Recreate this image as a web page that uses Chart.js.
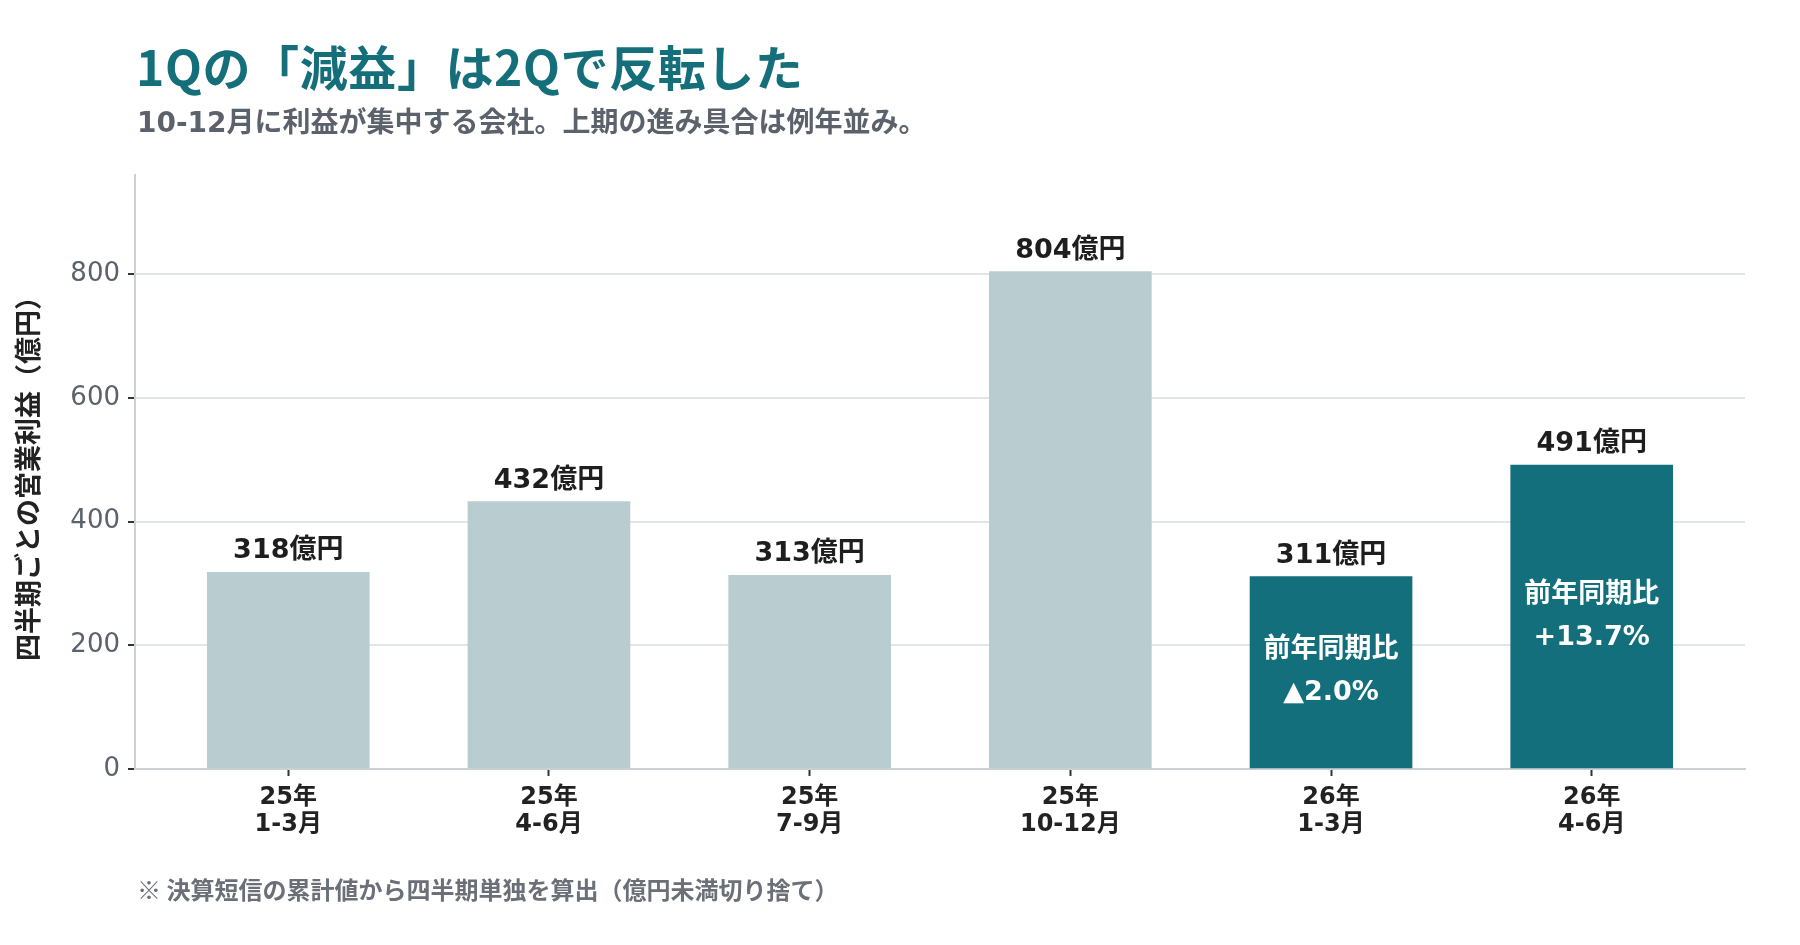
<!DOCTYPE html>
<html lang="ja">
<head>
<meta charset="utf-8">
<script src="https://cdn.jsdelivr.net/npm/chart.js@4.4.1/dist/chart.umd.min.js"></script>
<style>
  html, body { margin: 0; padding: 0; background: #fff; }
  #wrap { position: relative; width: 1800px; height: 945px; font-family: "Noto Sans CJK JP", "Noto Sans", sans-serif; }
  #title { position: absolute; left: 136px; top: 30px; font-size: 48px; font-weight: 700; color: #146f7b; letter-spacing: 0.6px; }
  #subtitle { position: absolute; left: 137px; top: 100px; font-size: 28px; font-weight: 700; color: #5b626c; font-family: "DejaVu Sans", "Noto Sans CJK JP", sans-serif; }
  #note { position: absolute; left: 137px; top: 871px; font-size: 24px; font-weight: 700; color: #6b7078; }
  canvas { position: absolute; left: 0; top: 0; }
</style>
</head>
<body>
<div id="wrap">
  <canvas id="chart" width="1800" height="945"></canvas>
  <div id="title">1Qの「減益」は2Qで反転した</div>
  <div id="subtitle">10-12月に利益が集中する会社。上期の進み具合は例年並み。</div>
  <div id="note">※ 決算短信の累計値から四半期単独を算出（億円未満切り捨て）</div>
</div>
<script>
const quarters = [
  ["25年", "1-3月"],
  ["25年", "4-6月"],
  ["25年", "7-9月"],
  ["25年", "10-12月"],
  ["26年", "1-3月"],
  ["26年", "4-6月"]
];
const profits = [318, 432, 313, 804, 311, 491];
const yoyLabels = [null, null, null, null, ["前年同期比", "▲2.0%"], ["前年同期比", "+13.7%"]];
const yTicks = [0, 200, 400, 600, 800];

const FONT = '"DejaVu Sans", "Noto Sans CJK JP", sans-serif';
const CJK = '"Noto Sans CJK JP", sans-serif';
const lightBar = "#b9cdd1";
const darkBar = "#126f7b";

const barLabels = {
  id: "barLabels",
  afterDatasetsDraw(chart) {
    const ctx = chart.ctx;
    const meta = chart.getDatasetMeta(0);
    ctx.save();
    ctx.textAlign = "center";
    ctx.textBaseline = "middle";
    meta.data.forEach(function (bar, i) {
      ctx.fillStyle = "#1e1e1e";
      ctx.font = "bold 27px " + FONT;
      ctx.fillText(profits[i] + "億円", bar.x, bar.y - 21);
      if (yoyLabels[i]) {
        let mid = (bar.y + bar.base) / 2;
        ctx.fillStyle = "#ffffff";
        ctx.font = "bold 27px " + FONT;
        ctx.fillText(yoyLabels[i][0], bar.x, mid - 22);
        ctx.fillText(yoyLabels[i][1], bar.x, mid + 21);
      }
    });
    ctx.restore();
  }
};

let ctx = document.getElementById("chart").getContext("2d");
new Chart(ctx, {
  type: "bar",
  data: {
    datasets: [{
      data: profits.map(function (v, i) { return { x: i, y: v }; }),
      backgroundColor: profits.map(function (v, i) { return yoyLabels[i] ? darkBar : lightBar; }),
      barThickness: 162
    }]
  },
  options: {
    responsive: false,
    animation: false,
    events: [],
    layout: { padding: { left: 0, top: 175, right: 55, bottom: 86 } },
    plugins: { legend: { display: false }, tooltip: { enabled: false } },
    scales: {
      x: {
        type: "linear",
        offset: false,
        min: -0.588,
        max: 5.588,
        afterBuildTicks: function (scale) {
          scale.ticks = quarters.map(function (q, i) { return { value: i }; });
        },
        afterFit: function (scale) { scale.height = 90; },
        border: { display: true, color: "#cdd1d5", width: 2 },
        grid: { offset: false, drawOnChartArea: false, drawTicks: true, tickLength: 7, tickColor: "#333", tickWidth: 2 },
        ticks: {
          autoSkip: false,
          maxRotation: 0,
          padding: 8,
          color: "#222",
          font: { family: FONT, size: 24, weight: "bold", lineHeight: 1.12 },
          callback: function (value) { return quarters[value] || ""; }
        }
      },
      y: {
        min: 0,
        max: 960,
        afterBuildTicks: function (scale) {
          scale.ticks = yTicks.map(function (v) { return { value: v }; });
        },
        afterFit: function (scale) { scale.width = 135; },
        border: { display: true, color: "#cdd1d5", width: 2 },
        grid: {
          color: function (c) { return c.tick && c.tick.value === 0 ? "rgba(0,0,0,0)" : "#e3e6e8"; },
          lineWidth: 2,
          drawTicks: true,
          tickLength: 7,
          tickColor: "#333",
          tickWidth: 2
        },
        ticks: {
          padding: 8,
          color: "#5b626c",
          font: { family: FONT, size: 26, weight: "500" }
        },
        title: {
          display: true,
          text: "四半期ごとの営業利益（億円）",
          color: "#222",
          padding: { top: 12, bottom: 0 },
          font: { family: CJK, size: 27, weight: "700" }
        }
      }
    }
  },
  plugins: [barLabels]
});
</script>
</body>
</html>
